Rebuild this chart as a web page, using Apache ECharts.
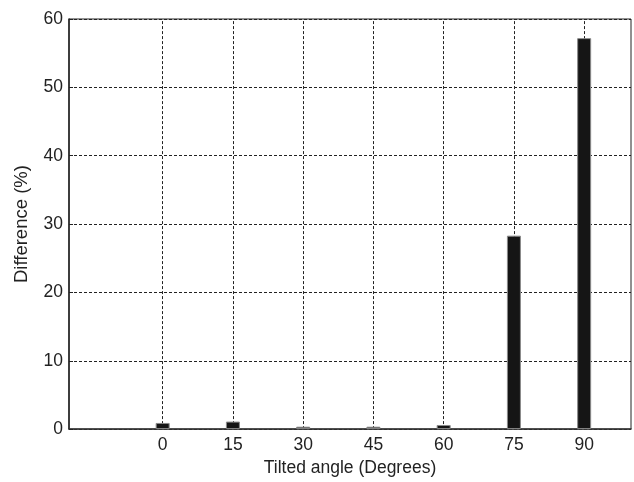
<!DOCTYPE html>
<html>
<head>
<meta charset="utf-8">
<script src="https://cdn.jsdelivr.net/npm/echarts@6/dist/echarts.min.js"></script>
<style>html,body{margin:0;padding:0;background:#fff}#c{width:634px;height:482px}</style>
</head>
<body>
<div id="c"></div>
<script>
var angles = [0, 15, 30, 45, 60, 75, 90];
var differences = [0.9, 1.1, 0.35, 0.35, 0.6, 28.3, 57.2];
var xTickLabels = [0, 15, 30, 45, 60, 75, 90];
var xTitle = 'Tilted angle (Degrees)';
var yTitle = 'Difference (%)';

var font = "'Liberation Sans', Arial, sans-serif";
var chart = echarts.init(document.getElementById('c'));
var barData = angles.map(function (a, i) { return [a, differences[i]]; });
chart.setOption({
  animation: false,
  backgroundColor: '#fff',
  grid: { left: 69, right: 3, top: 19, bottom: 50, show: true, borderColor: '#222', borderWidth: 1, backgroundColor: 'transparent' },
  xAxis: {
    type: 'value', min: -20, max: 100, interval: 5,
    name: xTitle, nameLocation: 'middle', nameGap: 26,
    nameTextStyle: { fontFamily: font, fontSize: 17.5, color: '#222' },
    axisLine: { show: true, onZero: false, lineStyle: { color: '#333', width: 1.5 } },
    axisTick: { show: false },
    splitLine: { show: false },
    axisLabel: {
      fontFamily: font, fontSize: 17.5, color: '#222', margin: 7,
      formatter: function (v) { return xTickLabels.indexOf(v) >= 0 ? String(v) : ''; }
    }
  },
  yAxis: {
    type: 'value', min: 0, max: 60, interval: 10,
    name: yTitle, nameLocation: 'middle', nameGap: 38,
    nameTextStyle: { fontFamily: font, fontSize: 18.5, color: '#222' },
    axisLine: { show: true, onZero: false, lineStyle: { color: '#222', width: 1.5 } },
    axisTick: { show: true, inside: true, length: 4, lineStyle: { color: '#222' } },
    splitLine: { show: true, lineStyle: { color: '#222', type: [3, 2], width: 1 } },
    axisLabel: { fontFamily: font, fontSize: 17.5, color: '#222', margin: 6 }
  },
  series: [
    {
      type: 'line', data: [], z: 1, silent: true,
      markLine: {
        silent: true, symbol: 'none', label: { show: false },
        lineStyle: { color: '#222', type: [3, 2], width: 1 },
        data: xTickLabels.map(function (v) { return { xAxis: v }; })
      }
    },
    {
      type: 'bar', data: barData, barWidth: 14, z: 5,
      itemStyle: { color: '#151515', borderColor: '#8a8a8a', borderWidth: 1 }
    }
  ]
});
</script>
</body>
</html>
